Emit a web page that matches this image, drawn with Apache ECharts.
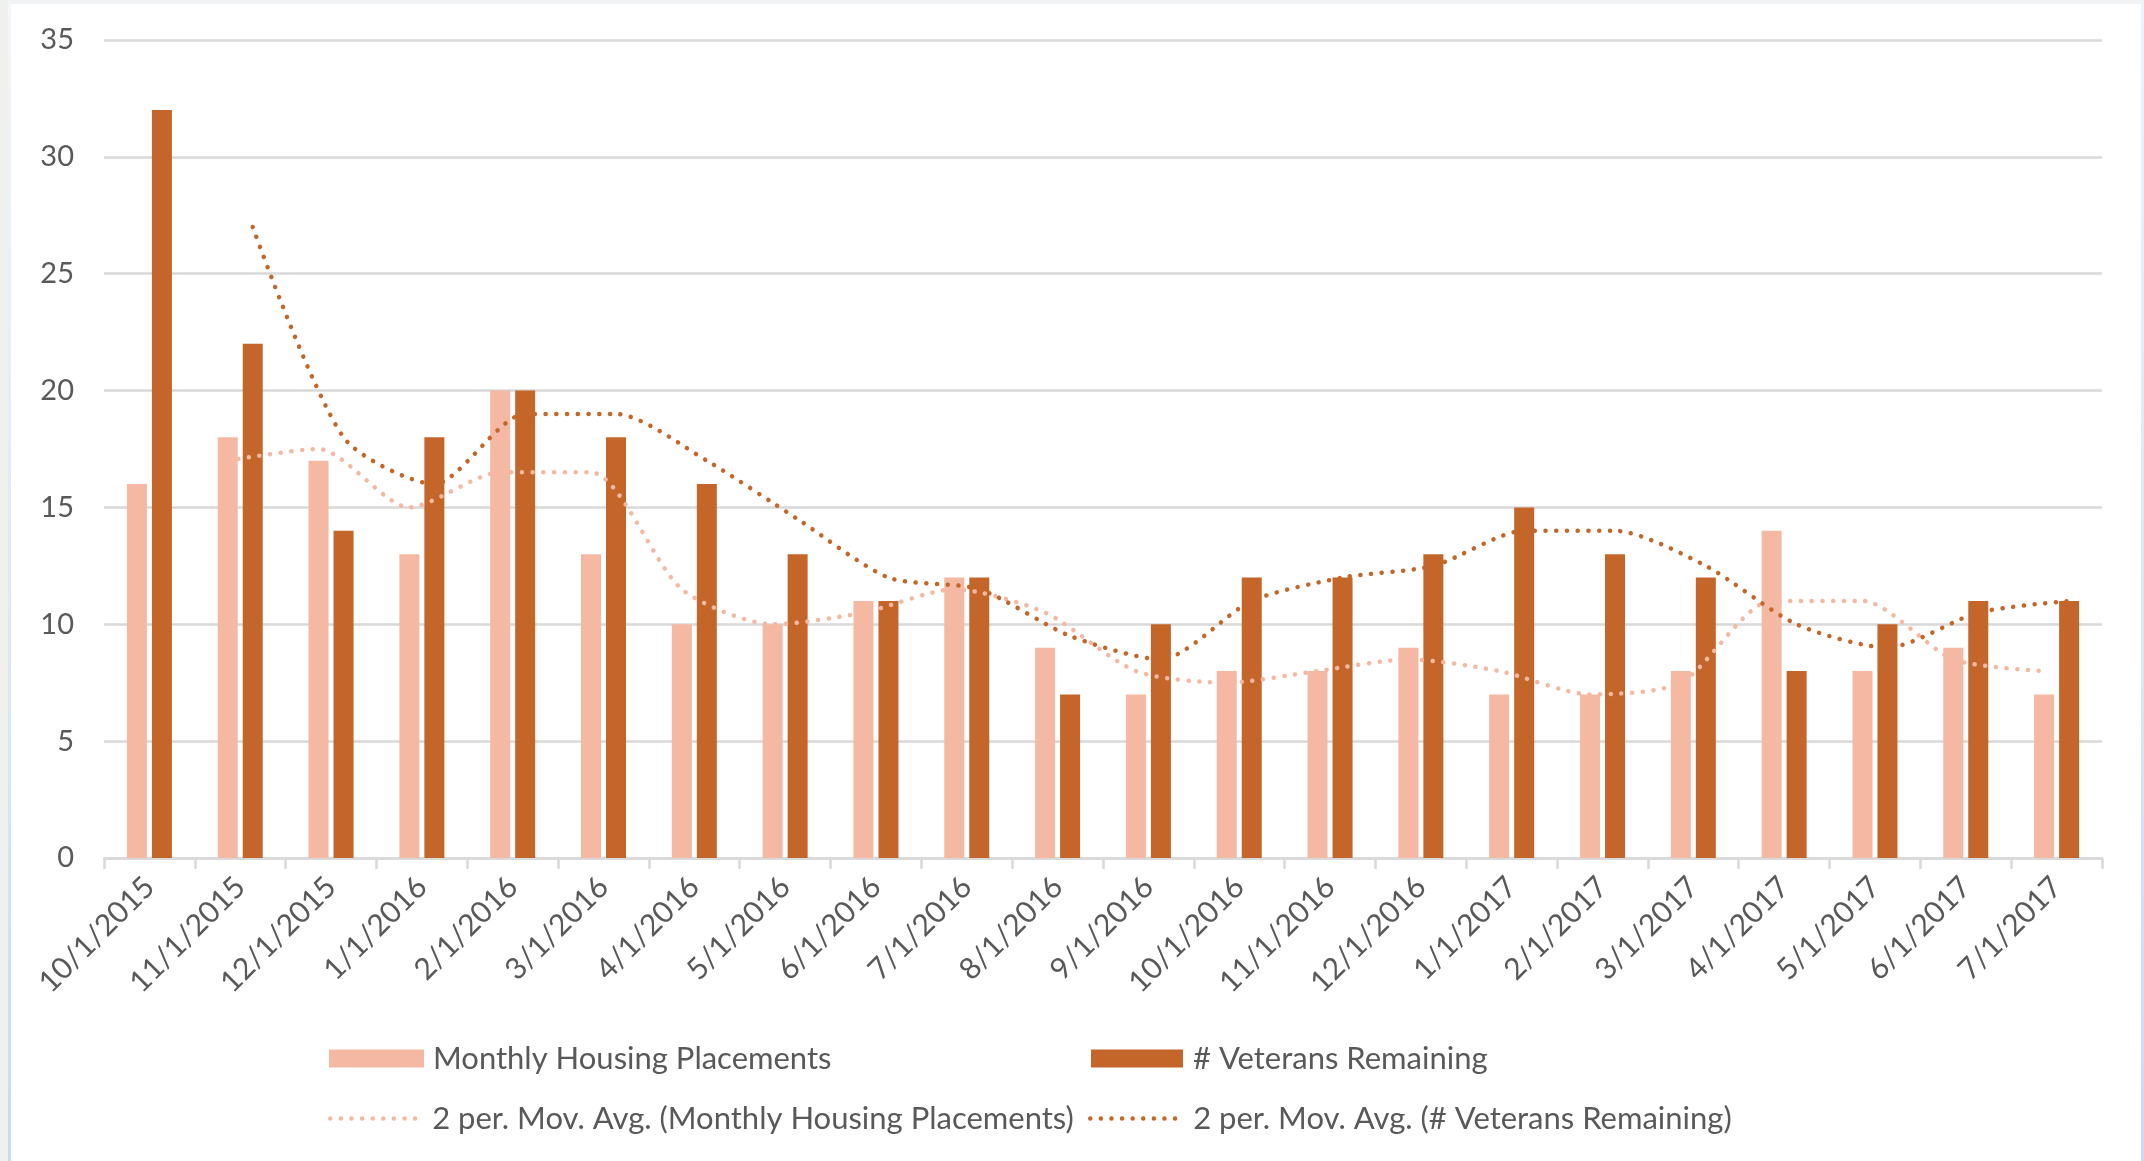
<!DOCTYPE html>
<html>
<head>
<meta charset="utf-8">
<script src="https://cdn.jsdelivr.net/npm/echarts@6/dist/echarts.min.js"></script>
<style>
html,body{margin:0;padding:0;background:#fff;}
#c{width:2144px;height:1161px;}
</style>
</head>
<body>
<div id="c"></div>
<script>
// ---- data ----
const categories = ['10/1/2015','11/1/2015','12/1/2015','1/1/2016','2/1/2016','3/1/2016','4/1/2016','5/1/2016','6/1/2016','7/1/2016','8/1/2016','9/1/2016','10/1/2016','11/1/2016','12/1/2016','1/1/2017','2/1/2017','3/1/2017','4/1/2017','5/1/2017','6/1/2017','7/1/2017'];
const placements = [16,18,17,13,20,13,10,10,11,12,9,7,8,8,9,7,7,8,14,8,9,7];
const veterans   = [32,22,14,18,20,18,16,13,11,12,7,10,12,12,13,15,13,12,8,10,11,11];
const placementsAvg = [null,17,17.5,15,16.5,16.5,11.5,10,10.5,11.5,10.5,8,7.5,8,8.5,8,7,7.5,11,11,8.5,8];
const veteransAvg   = [null,27,18,16,19,19,17,14.5,12,11.5,9.5,8.5,11,12,12.5,14,14,12.5,10,9,10.5,11];
const yTicks = [0,5,10,15,20,25,30,35];

const names = ['Monthly Housing Placements','# Veterans Remaining','2 per. Mov. Avg. (Monthly Housing Placements)','2 per. Mov. Avg. (# Veterans Remaining)'];

// ---- layout / style ----
const W = 2144, H = 1161;
const gridLeft = 104, gridRight = 42, gridTop = 40, gridBottom = 303;
const barW = 20, barGapPx = 5;
const catW = (W - gridLeft - gridRight) / categories.length;
const off = (barW + barGapPx) / 2 / catW;   // bar-centre offset in category units
const light = '#F4B8A3', dark = '#C4662A';
const txt = '#595959', gridC = '#D9D9D9';
const font = 'Lato';

// dotted legend icon: a row of small circles
let dotPath = 'path://';
for (let k = 0; k < 9; k++) {
  const cx = 2.25 + k * 10.6;
  dotPath += 'M' + (cx - 2.25) + ',2.25a2.25,2.25 0 1,0 4.5,0a2.25,2.25 0 1,0 -4.5,0';
}

function pts(arr, shift){
  const out = [];
  arr.forEach((v,i)=>{ if(v!==null) out.push([i+shift, v]); });
  return out;
}

const chart = echarts.init(document.getElementById('c'), null, {renderer:'canvas'});
const dots = (c)=>({color:c, width:4.5, type:[0.1,10.6], cap:'round'});
const legText = (pl)=>({fontSize:31,color:txt,fontFamily:font,padding:[0,0,0,pl]});

chart.setOption({
  backgroundColor:'#ffffff',
  animation:false,
  textStyle:{fontFamily:font},
  graphic:[
    {type:'rect', shape:{x:0,y:0,width:W,height:4}, style:{fill:'#F1F2F4'}, silent:true},
    {type:'rect', shape:{x:0,y:0,width:8,height:H}, style:{fill:'#F0F0EE'}, silent:true},
    {type:'rect', shape:{x:8,y:0,width:3,height:H}, style:{fill:new echarts.graphic.LinearGradient(0,0,0,1,[{offset:0,color:'#F3F6FA'},{offset:1,color:'#C9DCF2'}])}, silent:true},
    {type:'rect', shape:{x:W-3,y:0,width:3,height:H}, style:{fill:new echarts.graphic.LinearGradient(0,0,0,1,[{offset:0,color:'#EEF3FA'},{offset:1,color:'#C9DCF2'}])}, silent:true}
  ],
  grid:{left:gridLeft,right:gridRight,top:gridTop,bottom:gridBottom,containLabel:false},
  legend:[
    {data:[names[0]], left:329, top:1043, padding:0, itemWidth:95, itemHeight:18, itemGap:0, textStyle:legText(4), icon:'rect'},
    {data:[names[1]], left:1091, top:1043, padding:0, itemWidth:92, itemHeight:18, itemGap:0, textStyle:legText(5), icon:'rect'},
    {data:[{name:names[2], icon:dotPath, itemStyle:{color:light}}], left:328, top:1103, padding:0, itemWidth:91, itemHeight:4.5, itemGap:0, textStyle:legText(9)},
    {data:[{name:names[3], icon:dotPath, itemStyle:{color:dark}}], left:1088, top:1103, padding:0, itemWidth:91, itemHeight:4.5, itemGap:0, textStyle:legText(10)}
  ],
  xAxis:[
    {type:'category', data:categories, boundaryGap:true,
     axisLine:{lineStyle:{color:gridC,width:2.5}},
     axisTick:{show:true,length:11,lineStyle:{color:gridC,width:2.5}},
     axisLabel:{rotate:45,fontSize:30,color:txt,fontFamily:font,margin:24,interval:0},
     splitLine:{show:false}},
    {type:'value', min:-0.5, max:categories.length-0.5, show:false}
  ],
  yAxis:{type:'value', min:yTicks[0], max:yTicks[yTicks.length-1], interval:yTicks[1]-yTicks[0],
     axisLine:{show:false}, axisTick:{show:false},
     axisLabel:{fontSize:29,color:txt,fontFamily:font,margin:30},
     splitLine:{lineStyle:{color:gridC,width:2.5}}},
  series:[
    {name:names[0], type:'bar', data:placements, barWidth:barW, barGap:(barGapPx/barW*100)+'%', itemStyle:{color:light}},
    {name:names[1], type:'bar', data:veterans, barWidth:barW, barGap:(barGapPx/barW*100)+'%', itemStyle:{color:dark}},
    {name:names[2], type:'line', xAxisIndex:1, data:pts(placementsAvg,-off), smooth:0.25, showSymbol:false, symbol:'none', lineStyle:dots(light), itemStyle:{color:light}, z:3},
    {name:names[3], type:'line', xAxisIndex:1, data:pts(veteransAvg,off), smooth:0.25, showSymbol:false, symbol:'none', lineStyle:dots(dark), itemStyle:{color:dark}, z:3}
  ]
});
</script>
</body>
</html>
